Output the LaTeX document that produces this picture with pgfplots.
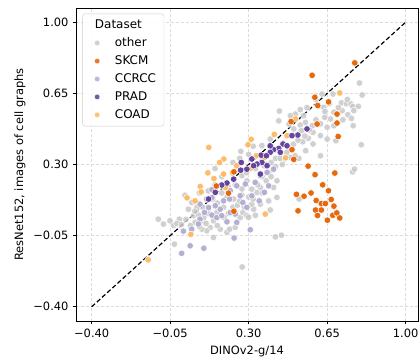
\documentclass[border=0pt]{standalone}
\usepackage{fontspec}
\setmainfont{DejaVu Sans}
\usepackage{pgfplots}
\usepackage{pgfplotstable}
\pgfplotsset{compat=1.18}
\definecolor{cOther}{HTML}{C8C8C8}
\definecolor{cSKCM}{HTML}{E66101}
\definecolor{cCCRCC}{HTML}{B2ABD2}
\definecolor{cPRAD}{HTML}{5E3C99}
\definecolor{cCOAD}{HTML}{FDB863}

\pgfplotstableread{
x y
0.794 0.701
0.806 0.642
0.714 0.603
0.736 0.599
0.756 0.598
0.764 0.585
0.789 0.586
0.769 0.565
0.742 0.545
0.758 0.527
0.717 0.565
0.680 0.557
0.665 0.524
0.680 0.491
0.650 0.483
0.639 0.532
0.635 0.581
0.627 0.647
0.676 0.647
0.766 0.491
0.802 0.397
0.763 0.264
0.772 0.277
0.689 0.417
0.650 0.425
0.620 0.442
0.587 0.458
0.584 0.491
0.553 0.507
0.530 0.494
0.545 0.540
0.508 0.548
0.486 0.540
0.480 0.499
0.501 0.475
0.535 0.466
0.566 0.429
0.541 0.412
0.587 0.401
0.620 0.343
0.554 0.368
0.524 0.330
0.507 0.343
0.486 0.335
0.459 0.327
0.434 0.515
0.437 0.563
0.525 0.130
0.426 0.138
0.396 0.076
0.419 -0.056
0.446 -0.048
0.271 -0.204
-0.031 -0.092
-0.103 0.031
-0.080 0.007
-0.051 0.023
-0.009 0.031
0.016 0.149
0.031 0.080
0.054 0.048
0.061 0.015
0.265 0.365
0.359 0.393
0.396 0.425
0.369 0.294
0.389 0.261
0.426 0.220
0.411 0.187
0.378 0.220
0.352 0.187
0.337 0.162
0.314 0.179
0.292 0.220
0.270 0.245
0.203 0.138
0.233 0.130
0.188 0.089
0.158 0.064
0.143 0.023
0.128 -0.010
0.113 -0.026
0.091 -0.018
0.098 0.023
0.076 0.051
0.098 0.088
0.069 0.088
0.046 0.113
0.143 -0.059
0.203 -0.034
0.173 -0.018
0.215 -0.018
0.240 -0.010
0.262 0.039
0.274 0.064
0.292 0.048
0.322 0.080
0.314 0.105
0.352 0.105
0.389 0.121
-0.035 0.000
-0.020 0.010
0.000 0.005
0.020 0.030
0.040 0.000
0.080 -0.005
0.110 0.010
0.160 0.000
0.190 0.040
0.210 0.060
0.230 0.090
0.250 0.100
0.270 0.150
0.300 0.140
0.320 0.130
0.340 0.200
0.360 0.240
0.380 0.300
0.400 0.310
0.420 0.330
0.440 0.330
0.420 0.290
0.450 0.300
0.470 0.360
0.500 0.400
0.520 0.420
0.550 0.440
0.570 0.470
0.600 0.520
0.620 0.500
0.640 0.560
0.660 0.600
0.700 0.580
0.720 0.520
0.740 0.620
0.600 0.620
0.560 0.580
0.530 0.570
0.080 0.160
0.120 0.170
0.150 0.200
0.180 0.240
0.230 0.310
0.260 0.330
0.300 0.350
0.320 0.390
0.150 0.280
0.140 0.130
0.180 0.160
0.210 0.190
0.240 0.200
0.270 0.180
0.290 0.260
0.330 0.280
0.360 0.320
0.060 0.070
0.100 0.040
0.120 0.060
0.160 0.110
0.260 0.120
0.280 0.090
0.300 0.040
0.330 0.050
0.360 0.160
0.400 0.240
}\tother

\pgfplotstableread{
x y
0.773 0.800
0.583 0.739
0.595 0.631
0.608 0.590
0.656 0.608
0.489 0.511
0.694 0.548
0.694 0.504
0.699 0.438
0.493 0.373
0.565 0.292
0.596 0.250
0.684 0.258
0.156 0.194
0.210 0.159
0.630 0.200
0.656 0.171
0.513 0.153
0.547 0.144
0.578 0.160
0.601 0.123
0.624 0.108
0.642 0.108
0.668 0.128
0.680 0.095
0.598 0.076
0.624 0.076
0.520 0.072
0.607 0.049
0.675 0.050
0.693 0.062
0.706 0.037
0.651 0.026
0.234 0.264
0.234 0.070
0.605 0.499
0.501 0.325
}\tskcm

\pgfplotstableread{
x y
0.001 -0.137
0.100 -0.112
0.235 -0.062
0.307 -0.021
0.039 -0.100
0.009 -0.028
0.103 0.064
0.136 0.051
0.158 0.039
0.173 0.080
0.203 0.018
0.247 0.015
0.240 0.056
0.274 0.113
0.292 0.089
0.262 0.146
0.215 0.130
0.188 0.121
0.151 0.097
0.121 0.088
0.083 0.105
0.083 0.031
0.046 -0.018
0.076 0.007
0.136 0.137
0.314 0.146
0.347 0.121
0.370 0.163
0.389 0.195
0.285 0.204
0.329 0.212
0.352 0.245
0.247 0.195
0.218 0.171
0.136 0.176
0.113 0.130
0.180 0.048
0.218 0.064
0.382 0.261
0.411 0.277
}\tccrcc

\pgfplotstableread{
x y
0.560 0.475
0.519 0.445
0.493 0.442
0.453 0.401
0.434 0.379
0.411 0.373
0.396 0.360
0.356 0.346
0.359 0.310
0.337 0.302
0.314 0.327
0.352 0.253
0.267 0.310
0.264 0.272
0.233 0.228
0.203 0.209
0.180 0.199
0.121 0.130
0.151 0.163
0.379 0.343
0.396 0.392
0.441 0.360
0.471 0.392
0.382 0.294
0.322 0.294
0.292 0.277
}\tprad

\pgfplotstableread{
x y
-0.148 -0.169
0.122 0.384
0.311 0.424
0.297 0.397
0.189 0.327
0.170 0.310
0.118 0.259
0.145 0.231
0.188 0.253
0.084 0.192
0.088 0.165
0.061 0.121
0.025 0.136
0.042 -0.044
0.246 0.294
0.228 0.258
0.309 0.282
0.414 0.448
0.471 0.442
0.509 0.524
0.465 0.333
0.374 0.056
0.706 0.652
0.196 0.187
0.334 0.343
0.366 0.330
}\tcoad

\begin{document}
\fontsize{11.5}{13.8}\selectfont
\begin{tikzpicture}
\begin{axis}[
  name=ax,
  scale only axis,
  width=342bp, height=313bp,
  xmin=-0.47, xmax=1.055, ymin=-0.47, ymax=1.07,
  axis line style={line width=0.9pt},
  tick pos=left,
  tick align=outside,
  major tick length=3.5pt,
  every tick/.style={black, line width=0.9pt},
  xtick={-0.4,-0.05,0.3,0.65,1.0},
  ytick={-0.4,-0.05,0.3,0.65,1.0},
  xticklabels={−0.40,−0.05,0.30,0.65,1.00},
  yticklabels={−0.40,−0.05,0.30,0.65,1.00},
  ticklabel style={font=\fontsize{11.5}{13.8}\selectfont},
  grid=major,
  major grid style={gray!28, line width=0.6pt, dash pattern=on 3pt off 2pt},
  xlabel={DINOv2-g/14},
  ylabel={ResNet152, images of cell graphs},
  label style={font=\fontsize{13.8}{16}\selectfont},
  every axis x label/.style={at={(rel axis cs:0.5,0)}, yshift=-30bp, anchor=center},
  every axis y label/.style={at={(rel axis cs:0,0.5)}, xshift=-56bp, rotate=90, anchor=center},
  legend style={at={(0.019,0.982)}, anchor=north west, draw=gray!40, rounded corners=2.5pt,
    fill=white, fill opacity=0.85, text opacity=1, font=\fontsize{12}{14.4}\selectfont,
    row sep=3.4pt, inner xsep=6pt, inner ysep=4pt,
    /tikz/every odd column/.style={column sep=13pt}},
  legend cell align=left,
  scatter mark/.style={only marks, mark=*, mark size=3.3pt, forget plot,
    mark options={draw=white, line width=0.5pt, fill=#1}},
]
\addplot[scatter mark=cOther, fill opacity=0.85, draw opacity=0.9] table[x=x,y=y]{\tother};
\addplot[scatter mark=cCCRCC, fill opacity=0.95] table[x=x,y=y]{\tccrcc};
\addplot[scatter mark=cCOAD, fill opacity=0.95] table[x=x,y=y]{\tcoad};
\addplot[scatter mark=cPRAD, fill opacity=0.95] table[x=x,y=y]{\tprad};
\addplot[scatter mark=cSKCM, fill opacity=0.95] table[x=x,y=y]{\tskcm};
\addplot[black, line width=1.2pt, dash pattern=on 4.5pt off 2.5pt, forget plot] coordinates {(-0.4,-0.4) (1.0,1.0)};

\addlegendimage{empty legend}
\addlegendentry{\hspace*{-20pt}Dataset}
\addlegendimage{only marks, mark=*, mark size=2.8pt, mark options={draw=white, line width=0.4pt, fill=cOther}}
\addlegendentry{other}
\addlegendimage{only marks, mark=*, mark size=2.8pt, mark options={draw=white, line width=0.4pt, fill=cSKCM}}
\addlegendentry{SKCM}
\addlegendimage{only marks, mark=*, mark size=2.8pt, mark options={draw=white, line width=0.4pt, fill=cCCRCC}}
\addlegendentry{CCRCC}
\addlegendimage{only marks, mark=*, mark size=2.8pt, mark options={draw=white, line width=0.4pt, fill=cPRAD}}
\addlegendentry{PRAD}
\addlegendimage{only marks, mark=*, mark size=2.8pt, mark options={draw=white, line width=0.4pt, fill=cCOAD}}
\addlegendentry{COAD}
\end{axis}
\pgfresetboundingbox
\path[use as bounding box] ([xshift=-76bp,yshift=-38.5bp]ax.south west) rectangle ([xshift=1bp,yshift=8bp]ax.north east);
\end{tikzpicture}
\end{document}
